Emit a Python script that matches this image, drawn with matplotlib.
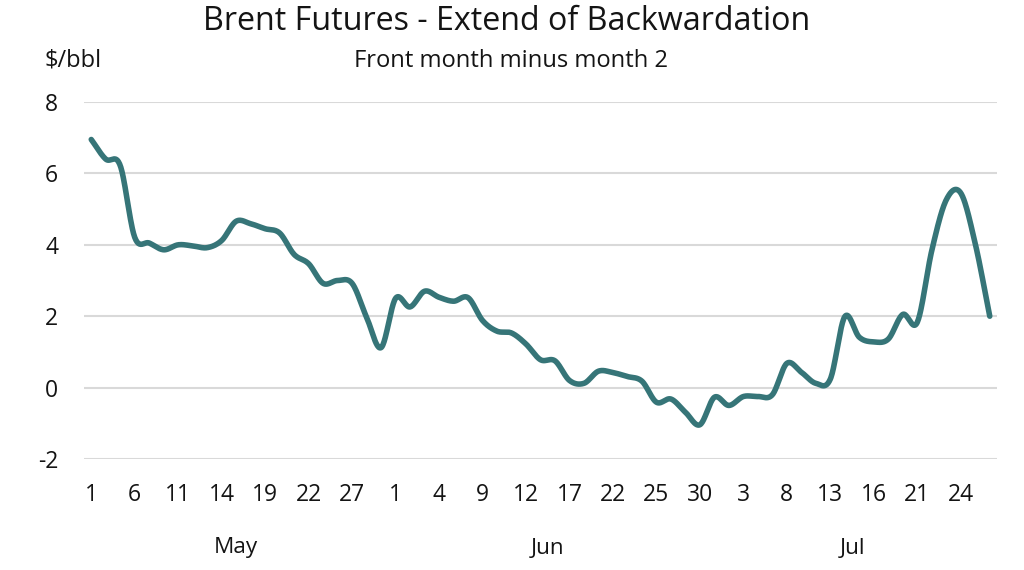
import numpy as np
import pandas as pd
import matplotlib
matplotlib.use("Agg")
import matplotlib.pyplot as plt

# ---- data ----
start_date = "2020-05-01"
end_date = "2020-07-28"
spread = [
    6.95, 6.40, 6.22, 4.21, 4.05, 3.86, 4.00, 3.97, 3.92, 4.12,
    4.66, 4.59, 4.45, 4.33, 3.73, 3.47, 2.92, 3.00, 2.92, 1.97,
    1.12, 2.50, 2.26, 2.70, 2.53, 2.42, 2.52, 1.88, 1.58, 1.53,
    1.22, 0.78, 0.75, 0.20, 0.12, 0.46, 0.42, 0.31, 0.18, -0.41,
    -0.32, -0.69, -1.04, -0.27, -0.50, -0.25, -0.25, -0.20, 0.68, 0.43,
    0.12, 0.24, 1.99, 1.41, 1.28, 1.36, 2.05, 1.83, 3.84, 5.26,
    5.45, 4.03, 2.00,
]
tick_labels = ["1", "6", "11", "14", "19", "22", "27",
               "1", "4", "9", "12", "17", "22", "25", "30",
               "3", "8", "13", "16", "21", "24"]
months = ["May", "Jun", "Jul"]
y_ticks = [-2, 0, 2, 4, 6, 8]

title = "Brent Futures - Extend of Backwardation"
subtitle = "Front month minus month 2"
unit = "$/bbl"

# ---- helpers ----
dates = pd.bdate_range(start_date, end_date)
n = len(spread)
idx = np.arange(n)


def catmull_rom(x, y, steps=24):
    x = np.asarray(x, float)
    y = np.asarray(y, float)
    px = np.concatenate([[2 * x[0] - x[1]], x, [2 * x[-1] - x[-2]]])
    py = np.concatenate([[2 * y[0] - y[1]], y, [2 * y[-1] - y[-2]]])
    outx, outy = [], []
    t = np.linspace(0, 1, steps, endpoint=False)
    for i in range(1, len(px) - 2):
        for arr, a in ((outx, px), (outy, py)):
            a0, a1, a2, a3 = a[i - 1], a[i], a[i + 1], a[i + 2]
            arr.extend(0.5 * ((2 * a1) + (-a0 + a2) * t
                              + (2 * a0 - 5 * a1 + 4 * a2 - a3) * t ** 2
                              + (-a0 + 3 * a1 - 3 * a2 + a3) * t ** 3))
    outx.append(x[-1])
    outy.append(y[-1])
    return np.array(outx), np.array(outy)


plt.rcParams["font.family"] = ["Open Sans", "DejaVu Sans"]
txt = "#141414"

fig = plt.figure(figsize=(10.24, 5.70), dpi=100)
ax = fig.add_axes([84 / 1024, 1 - 459 / 570, (997 - 84) / 1024, (459 - 102) / 570])

sx, sy = catmull_rom(idx, spread)
ax.plot(sx, sy, color="#367578", lw=4.0, solid_capstyle="round", zorder=3)

ax.set_xlim(-0.5, n - 0.5)
ax.set_ylim(-2, 8)
ax.set_yticks(y_ticks)
ax.set_yticklabels([str(v) for v in y_ticks])
ax.yaxis.grid(True, color="#d9d9d9", lw=1.5)
ax.set_axisbelow(True)

tick_pos = idx[::3]
ax.set_xticks(tick_pos)
ax.set_xticklabels(tick_labels)

for s in ax.spines.values():
    s.set_visible(False)
ax.tick_params(axis="both", length=0, labelsize=16.5, colors=txt)
ax.tick_params(axis="y", pad=18.7)
ax.tick_params(axis="x", pad=17.5)

# month labels centered on each month's span
month_ids = np.array([d.month for d in dates])
for name, m in zip(months, sorted(set(month_ids))):
    pos = idx[month_ids == m]
    ax.text((pos[0] + pos[-1]) / 2, -2 - 89 / 35.7, name, ha="center", va="center",
            fontsize=16.2, color=txt)

fig.text(507 / 1024, 1 - 22 / 570, title, ha="center", va="center", fontsize=23.2, color=txt)
fig.text(511 / 1024, 1 - 61 / 570, subtitle, ha="center", va="center", fontsize=17.1, color=txt)
fig.text(45 / 1024, 1 - 61 / 570, unit, ha="left", va="center", fontsize=17, color=txt)

fig.savefig("out.png", dpi=100)
